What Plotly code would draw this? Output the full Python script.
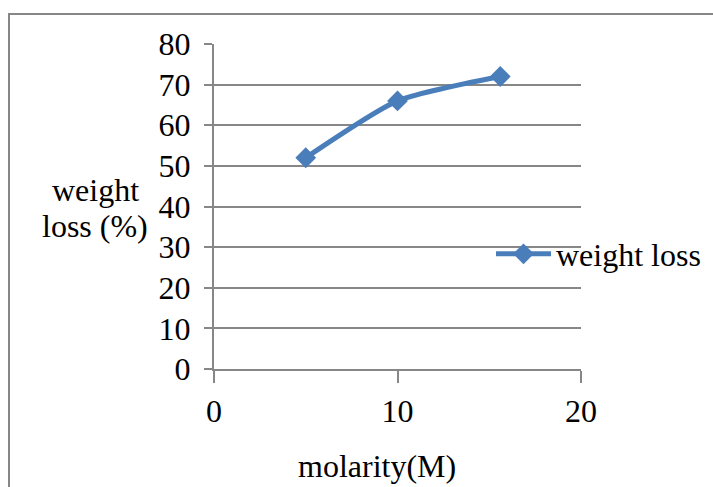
import plotly.graph_objects as go

molarity = [5, 10, 15.6]
weight_loss = [52, 66, 72]
series_name = "weight loss"
x_title = "molarity(M)"
y_title_lines = ["weight", "loss (%)"]
x_ticks = [0, 10, 20]
y_ticks = [0, 10, 20, 30, 40, 50, 60, 70, 80]

W, H = 713, 487
L, R, T, B = 214, 132, 44, 118
pw, ph = W - L - R, H - T - B

def px(xp):
    return (xp - L) / pw

def py(yp):
    return (H - B - yp) / ph

FONT = "Liberation Serif"
FS = 32
GRID = "#878787"
BLUE = "#4A7EBB"

fig = go.Figure()
fig.add_trace(go.Scatter(
    x=molarity, y=weight_loss, name=series_name,
    mode="lines+markers",
    line=dict(color=BLUE, width=5, shape="spline", smoothing=0.6),
    marker=dict(symbol="diamond", size=16, color=BLUE),
))

annotations = [
    dict(text=x_title, xref="paper", yref="paper", x=px(377), y=py(466),
         xanchor="center", yanchor="middle", showarrow=False,
         font=dict(family=FONT, size=FS)),
]
for i, line in enumerate(y_title_lines):
    annotations.append(dict(text=line, xref="paper", yref="paper", x=px(95), y=py(190 + 36 * i),
                            xanchor="center", yanchor="middle", showarrow=False,
                            font=dict(family=FONT, size=FS)))

fig.update_layout(
    width=W, height=H,
    margin=dict(l=L, r=R, t=T, b=B, pad=0, autoexpand=False),
    paper_bgcolor="white", plot_bgcolor="white",
    font=dict(family=FONT, size=FS, color="black"),
    showlegend=True,
    legend=dict(x=px(491), y=py(254), xanchor="left", yanchor="middle",
                bgcolor="rgba(0,0,0,0)", borderwidth=0, itemwidth=55,
                font=dict(family=FONT, size=FS), tracegroupgap=0),
    xaxis=dict(range=[0, 20], tickvals=x_ticks, showgrid=False, zeroline=False,
               showline=True, linecolor=GRID, linewidth=2,
               ticks="outside", ticklen=12, tickwidth=2, tickcolor=GRID,
               ticklabelstandoff=1, tickfont=dict(family=FONT, size=FS)),
    yaxis=dict(range=[0, 80], tickvals=y_ticks, showgrid=True, gridcolor=GRID, gridwidth=2,
               zeroline=False, showline=True, linecolor=GRID, linewidth=2,
               ticks="outside", ticklen=8, tickwidth=2, tickcolor=GRID,
               ticklabelstandoff=7, tickfont=dict(family=FONT, size=FS)),
    annotations=annotations,
    shapes=[
        dict(type="rect", xref="paper", yref="paper", x0=px(9), x1=px(760), y0=py(540), y1=py(14),
             line=dict(color=GRID, width=2), fillcolor="rgba(0,0,0,0)", layer="below"),
    ],
)

fig.write_html("out.html")
